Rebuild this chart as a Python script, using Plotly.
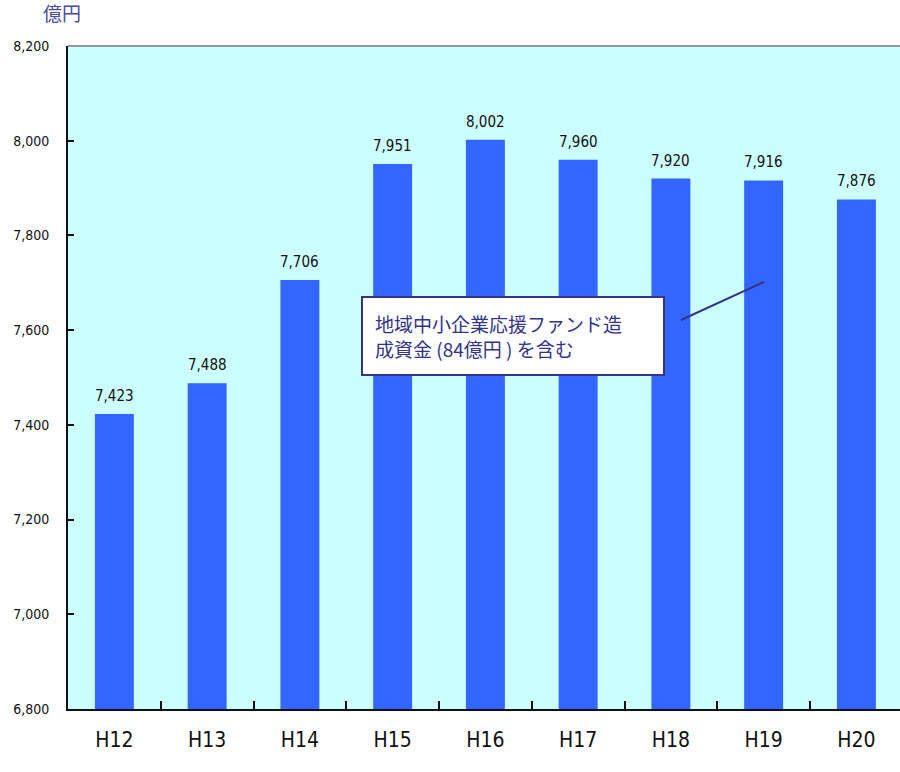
import plotly.graph_objects as go

categories = ["H12", "H13", "H14", "H15", "H16", "H17", "H18", "H19", "H20"]
values = [7423, 7488, 7706, 7951, 8002, 7960, 7920, 7916, 7876]
y_ticks = [6800, 7000, 7200, 7400, 7600, 7800, 8000, 8200]
unit_label = "億円"
note_text = "地域中小企業応援ファンド造<br>成資金 (84億円 ) を含む"

NARROW = "DejaVu Sans Condensed, Liberation Sans Narrow, Arial Narrow, sans-serif"
CJK = "Noto Sans CJK JP, sans-serif"

fig = go.Figure()
fig.add_trace(go.Bar(
    x=categories, y=values,
    marker=dict(color="#3366FF", line=dict(width=0)),
    width=0.42,
    hoverinfo="skip",
))

for c, v in zip(categories, values):
    fig.add_annotation(x=c, y=v, text=f"{v:,}", showarrow=False,
                       yanchor="bottom", yshift=7,
                       font=dict(family=NARROW, size=15, color="#111111"))

fig.update_layout(
    width=900, height=772,
    margin=dict(l=68, r=0, t=46, b=63),
    paper_bgcolor="white",
    plot_bgcolor="#CCFFFF",
    showlegend=False,
)
fig.update_xaxes(
    type="category",
    range=[-0.5, 8.47],
    tickson="boundaries",
    ticks="inside", ticklen=8, tickwidth=2, tickcolor="#111111",
    showline=True, linecolor="#111111", linewidth=2,
    showgrid=False,
    tickfont=dict(family=NARROW, size=21, color="#111111"),
    ticklabelstandoff=11,
)
fig.update_yaxes(
    range=[6800, 8200],
    tickvals=y_ticks,
    ticktext=[f"{t:,}" for t in y_ticks],
    ticks="inside", ticklen=6, tickwidth=2, tickcolor="#111111",
    showline=True, linecolor="#111111", linewidth=2,
    showgrid=False, zeroline=False,
    tickfont=dict(family=NARROW, size=14, color="#111111"),
    ticklabelstandoff=14,
)

# top grey border
fig.add_shape(type="line", xref="paper", yref="paper", x0=0, x1=1, y0=1, y1=1,
              line=dict(color="#999999", width=2))

# unit label
fig.add_annotation(xref="paper", yref="paper", x=(62 - 68) / 832, y=1.0, yshift=18,
                   xanchor="center", yanchor="bottom", showarrow=False,
                   text=unit_label,
                   font=dict(family=CJK, size=19, color="#4B4B9B"))

# note box
fig.add_annotation(xref="paper", yref="paper",
                   x=(361 - 68) / 832, y=(709 - 296) / 663,
                   xanchor="left", yanchor="top", showarrow=False,
                   text=note_text, align="left",
                   width=276, height=52,
                   borderpad=12,
                   bgcolor="white", bordercolor="#333388", borderwidth=2,
                   font=dict(family=CJK, size=19, color="#333388"))
# leader line
fig.add_shape(type="line", xref="paper", yref="paper",
              x0=(681 - 68) / 832, y0=(709 - 320) / 663,
              x1=(764 - 68) / 832, y1=(709 - 282) / 663,
              line=dict(color="#333388", width=2))

fig.write_html("out.html")
